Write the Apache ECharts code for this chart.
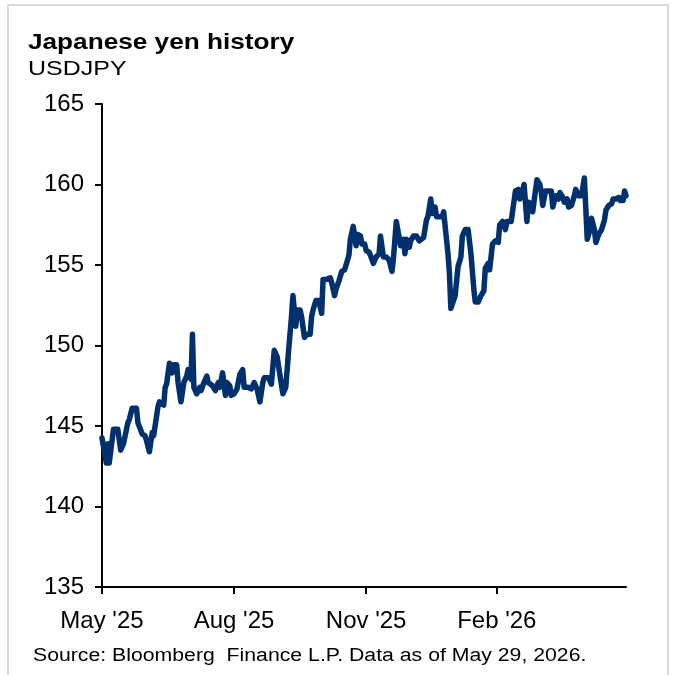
<!DOCTYPE html>
<html>
<head>
<meta charset="utf-8">
<script src="https://cdn.jsdelivr.net/npm/echarts@6/dist/echarts.min.js"></script>
<style>
html,body{margin:0;padding:0;background:#fff;}
#chart{width:676px;height:675px;}
</style>
</head>
<body>
<div id="chart"></div>
<script>
// Series starts 2025-05-29; dayOffsets are calendar days since that date
const startDate = '2025-05-29';
const dayOffsets = [0,3,4,5,6,8,9,11,13,15,18,19,21,24,25,28,30,31,33,35,36,39,40,43,44,45,47,49,50,52,53,55,56,57,59,60,62,63,64,66,68,69,71,73,74,77,79,81,82,84,86,87,89,90,92,94,96,98,99,102,104,106,108,110,112,113,116,118,120,122,123,126,128,130,132,133,135,136,138,139,141,143,145,146,147,149,151,153,154,156,159,160,162,163,165,167,169,170,172,173,175,176,177,178,180,181,183,184,186,187,189,191,193,194,196,198,200,202,203,205,206,208,210,211,212,214,215,217,219,221,222,224,226,227,229,230,232,233,235,237,238,239,241,242,243,244,246,247,248,250,251,253,255,257,259,260,262,264,266,267,269,270,272,274,276,277,279,281,282,285,286,288,290,291,293,294,296,297,299,300,301,303,305,306,307,309,311,313,314,316,318,319,321,322,324,325,327,329,330,332,334,335,336,338,339,340,341,343,344,345,346,348,350,351,353,355,356,358,360,361,362,363,364,365];
const usdjpy = [144.25,142.7,143.9,142.7,142.8,144.8,144.9,144.8,143.5,143.9,145.2,145.4,146.1,146.1,145.2,144.5,144.4,144.1,143.4,144.6,144.4,146.2,146.5,146.3,147.4,147.6,148.9,148.3,148.8,148.8,147.7,146.5,146.6,147.7,148.1,148.5,147.9,150.7,147.4,147.0,147.4,147.2,147.7,148.1,147.7,147.5,147.2,147.7,147.4,148.3,146.9,147.7,147.5,146.9,147.0,147.3,148.2,148.5,147.4,147.4,147.3,147.7,147.3,146.5,147.7,148.0,148.0,147.6,149.7,149.3,148.7,147.0,147.4,149.7,151.8,153.1,151.2,152.2,152.2,151.8,150.5,150.7,150.7,151.8,152.2,152.8,152.8,152.0,154.1,154.1,154.2,153.9,153.1,153.5,154.0,154.6,154.7,155.0,155.6,156.6,157.4,157.5,156.2,156.9,156.8,156.3,156.3,155.9,155.8,155.6,155.1,155.5,155.7,156.8,155.5,155.5,155.3,154.6,155.4,157.7,157.2,156.2,156.6,155.7,156.6,156.1,156.5,156.8,156.8,156.5,156.4,156.7,157.8,158.0,159.1,158.2,158.6,158.0,158.0,158.0,158.3,158.3,155.7,154.5,152.3,152.2,153.1,153.1,154.9,155.5,156.8,157.2,157.2,155.7,153.5,152.7,152.7,153.1,153.4,154.8,155.1,154.7,156.3,156.5,156.4,157.5,157.7,157.2,157.7,157.7,157.8,159.6,159.7,159.1,159.6,160.0,157.7,158.9,158.8,158.3,159.0,160.3,160.0,159.5,158.7,159.6,159.6,159.6,158.6,159.3,159.1,159.5,159.2,158.9,159.1,158.6,158.7,159.3,159.7,159.3,159.3,159.3,160.4,156.6,156.7,157.2,157.9,157.2,156.4,156.5,156.9,157.2,157.8,158.4,158.7,158.8,159.1,159.1,159.2,159.0,159.1,159.0,159.6,159.3];
// Tick positions (days since start: 2025-05-29, 2025-08-29, 2025-11-29, 2026-02-28)
const tickOffsets = [0, 92, 184, 275];
const tickLabels = ["May '25","Aug '25","Nov '25","Feb '26"];
const yMin = 135, yMax = 165, yStep = 5;

const seriesData = dayOffsets.map((d, i) => [d, usdjpy[i]]);

const FONT = '"Liberation Sans", Arial, sans-serif';
const SX = 1.19;
const chart = echarts.init(document.getElementById('chart'), null, {renderer: 'canvas'});
chart.setOption({
  backgroundColor: '#ffffff',
  animation: false,
  graphic: [
    {type: 'rect', shape: {x: 8, y: 5, width: 660, height: 690}, style: {fill: 'none', stroke: '#d9d9d9', lineWidth: 2}},
    {type: 'text', x: 28, y: 32, scaleX: SX, style: {text: 'Japanese yen history', font: 'bold 22px ' + FONT, fill: '#000', align: 'left', verticalAlign: 'top'}},
    {type: 'text', x: 28, y: 59, scaleX: SX, style: {text: 'USDJPY', font: '21px ' + FONT, fill: '#000', align: 'left', verticalAlign: 'top'}},
    {type: 'text', x: 33, y: 647, scaleX: 1.18, style: {text: 'Source: Bloomberg  Finance L.P. Data as of May 29, 2026.', font: '18px ' + FONT, fill: '#000', align: 'left', verticalAlign: 'top'}}
  ],
  grid: {left: 102, right: 50, top: 104, bottom: 88, containLabel: false},
  xAxis: {
    type: 'value',
    min: dayOffsets[0],
    max: dayOffsets[dayOffsets.length - 1],
    axisLine: {show: true, onZero: false, lineStyle: {color: '#000', width: 2}},
    axisTick: {show: true, customValues: tickOffsets, length: 7, lineStyle: {color: '#000', width: 2}},
    axisLabel: {
      customValues: tickOffsets,
      color: '#000', fontSize: 24, fontFamily: FONT, margin: 22,
      formatter: function (v) {
        const i = tickOffsets.indexOf(v);
        return i >= 0 ? tickLabels[i] : '';
      }
    },
    splitLine: {show: false}
  },
  yAxis: {
    type: 'value',
    min: yMin, max: yMax, interval: yStep,
    axisLine: {show: true, lineStyle: {color: '#000', width: 2}},
    axisTick: {show: true, length: 7, lineStyle: {color: '#000', width: 2}},
    axisLabel: {color: '#000', fontSize: 24, fontFamily: FONT, margin: 18},
    splitLine: {show: false}
  },
  series: [{
    type: 'line',
    data: seriesData,
    showSymbol: false,
    lineStyle: {color: '#00306e', width: 5.5, join: 'round', cap: 'round'},
    z: 1
  }]
});
</script>
</body>
</html>
